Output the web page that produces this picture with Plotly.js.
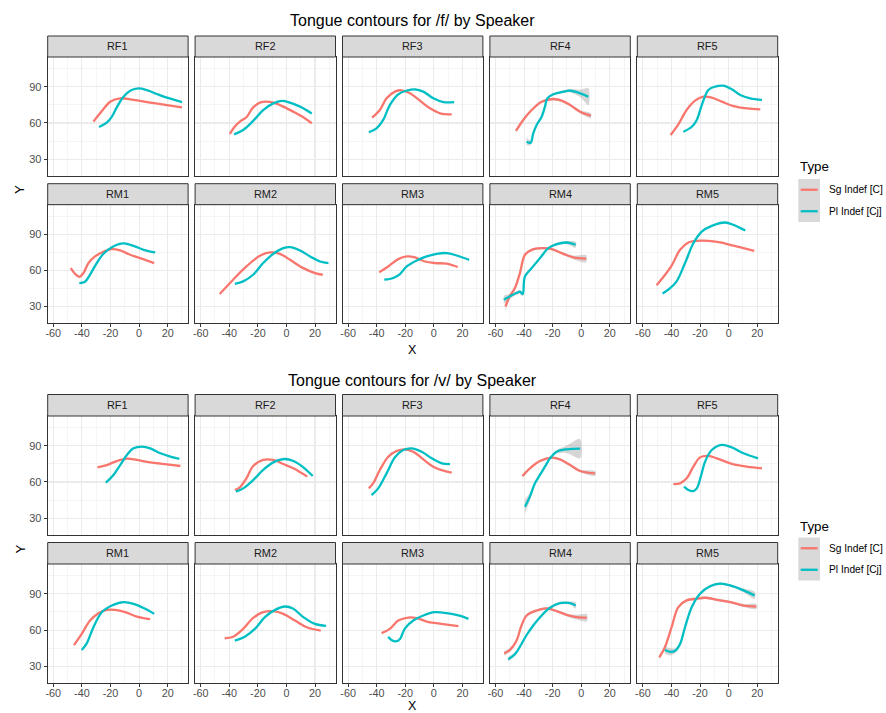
<!DOCTYPE html>
<html>
<head>
<meta charset="utf-8">
<script src="https://cdn.plot.ly/plotly-3.0.1.min.js"></script>
<style>html,body{margin:0;padding:0;background:#fff;}#chart{width:886px;height:713px;}</style>
</head>
<body>
<div id="chart"></div>
<script>
// ---------------- DATA ----------------
var speakersRow1 = ['RF1','RF2','RF3','RF4','RF5'];
var speakersRow2 = ['RM1','RM2','RM3','RM4','RM5'];
var typeLabels = ['Sg Indef [C]','Pl Indef [Cj]'];
var xTicks = [-60,-40,-20,0,20];
var yTicks = [30,60,90];

// /f/ contours: [X, Y]
var f_RF1_sg = [[-31.9,61.1],[-26,69.8],[-20.2,77.6],[-13.2,80.4],[-3.9,79],[7.8,76.8],[19.5,74.8],[30,72.9]];
var f_RF1_pl = [[-28,56.7],[-22.6,60.2],[-19,65.2],[-15.6,72.9],[-10.9,81.7],[-6.2,86.7],[-0.4,88.6],[5.5,87.2],[12.5,83.9],[19.5,80.9],[30,77.3]];
var f_RF2_sg = [[-39.6,50.9],[-36.1,57],[-32.6,61.1],[-28,64.7],[-23.3,72.9],[-18.6,76.8],[-13.9,77.6],[-9.2,76.8],[-2.2,73.5],[4.8,69.3],[11.8,64.7],[17.7,59.7]];
var f_RF2_pl = [[-36.6,50.6],[-30.3,54.2],[-23.3,61.7],[-16.3,70.7],[-9.2,76.2],[-3.4,78.2],[2.5,76.8],[9.5,73.5],[17.7,67.9]];
var f_RF3_sg = [[-43.2,64.4],[-37.8,70.7],[-33.1,80.4],[-27.2,85.9],[-22.6,87],[-16.7,84.5],[-9.7,78.4],[-2.7,72.1],[4.3,68],[12.5,67.1]];
var f_RF3_pl = [[-45.5,52.3],[-40.1,55.6],[-35.4,62.5],[-30.8,74.8],[-24.9,83.7],[-19,86.7],[-13.2,87.8],[-7.4,85.9],[-0.4,80.4],[6.7,77.3],[14.2,77.3]];
var f_RF4_sg = [[-45.7,53.4],[-40.6,62.5],[-34.7,70.7],[-27.7,77.6],[-19.5,79.8],[-13.7,78.4],[-7.8,74.8],[-0.8,69.3],[6.7,66]];
var f_RF4_pl = [[-38.2,44.5],[-35.4,43.7],[-33.6,51.4],[-31.2,58.3],[-27.7,65.2],[-25.4,73.5],[-23.7,80.4],[-19.5,83.7],[-12.5,85.9],[-7.8,86.7],[-0.8,84.5],[5,81.7]];
var f_RF5_sg = [[-40.6,50.1],[-35.2,58.9],[-29.4,70.7],[-23.5,78.4],[-17.7,81.7],[-11.8,80.9],[-4.8,77.6],[3.4,74],[12.7,72.1],[22.1,71.3]];
var f_RF5_pl = [[-31.7,52.8],[-25.8,56.9],[-22.3,62.5],[-18.8,74.8],[-14.2,87.2],[-9.5,90],[-3.6,90.8],[2.2,87.8],[8.1,83.1],[15.1,80.4],[23.3,79]];
var f_RM1_sg = [[-47.8,61.8],[-44.8,57.1],[-41.8,54.6],[-38.9,57.7],[-35.4,66],[-30.8,71.5],[-24.9,75.4],[-19,77.6],[-13.2,76.5],[-6.2,72.9],[0.8,70.1],[10.6,66]];
var f_RM1_pl = [[-41.8,49.4],[-37.8,50.5],[-34.3,56.3],[-29.6,66],[-24.9,73.7],[-19,79.2],[-10.9,82.3],[-3.9,80.3],[3.2,77],[11.3,74.8]];
var f_RM2_sg = [[-46.7,40.3],[-37.3,52.2],[-28,63.2],[-18.6,72],[-11.6,74.8],[-4.6,73.7],[2.5,68.7],[11.8,61.8],[20,57.7],[25.4,56.3]];
var f_RM2_pl = [[-36.1,48.8],[-30.3,50.8],[-23.3,56.3],[-16.3,66],[-9.2,73.7],[-2.2,78.4],[2.5,79.2],[9.5,76.5],[16.5,71.5],[23.5,67.3],[29.4,66]];
var f_RM3_sg = [[-38.2,58.4],[-31.9,63.2],[-24.9,69.3],[-19,71.5],[-13.2,70.7],[-6.2,67.3],[0.8,66],[9,65.5],[16.7,62.7]];
var f_RM3_pl = [[-34.7,52.2],[-28.4,53.6],[-23.7,56.9],[-19,63.2],[-12,68.2],[-5,71.5],[2,73.7],[9,74.3],[16,72.3],[24.7,68.7]];
var f_RM4_sg = [[-53,30],[-50,38.3],[-46.4,45.2],[-42.9,57.7],[-39.4,72.9],[-34.7,77],[-27.7,78.4],[-20.7,77.6],[-12.5,73.7],[-5.5,70.7],[3.4,69.6]];
var f_RM4_pl = [[-54.2,35.6],[-50,38.3],[-45.3,41.1],[-42.9,42.2],[-41,40.2],[-39.4,54.9],[-34.7,61.8],[-28.9,70.1],[-23,78.4],[-17.2,81.7],[-10.2,83.1],[-3.9,81.2]];
var f_RM5_sg = [[-50.4,47.6],[-45.7,54.4],[-39.9,63.9],[-34,77],[-28.2,83.1],[-22.3,84.5],[-14.2,84.5],[-6,83.1],[3.4,80.4],[10.4,78.4],[17.9,76.2]];
var f_RM5_pl = [[-46.2,40.7],[-41.1,44.9],[-36.4,50.8],[-30.5,66],[-24.7,82.5],[-18.8,92.2],[-11.8,96.9],[-2.5,99.7],[3.4,97.7],[11.6,93]];

// /v/ contours: [X, Y]
var v_RF1_sg = [[-29.1,72.1],[-22.6,74],[-15.6,77.3],[-8.5,79.3],[-1.5,78.2],[7.8,76.2],[19.5,74.6],[28.9,73.2]];
var v_RF1_pl = [[-23.3,59.4],[-17.9,65.8],[-13.2,74],[-8.5,82.3],[-3.9,87.8],[2,89.2],[7.8,87.8],[14.9,83.7],[21.9,80.9],[28.2,79]];
var v_RF2_sg = [[-36.1,53.4],[-32.6,55.6],[-28,63],[-23.3,73.2],[-16.3,78.2],[-9.2,78.2],[-2.2,74.8],[4.8,71.3],[14.6,64.4]];
var v_RF2_pl = [[-35.4,52],[-30.3,54.7],[-23.3,61.6],[-16.3,69.9],[-9.2,76.2],[-1,79],[4.8,77.3],[11.8,72.1],[18.4,64.9]];
var v_RF3_sg = [[-45.5,54.7],[-42.5,58.8],[-37.8,69.9],[-31.9,80.9],[-26.1,85.6],[-20.2,87],[-14.4,85],[-7.4,78.7],[-0.4,72.6],[6.7,69.3],[12.5,67.7]];
var v_RF3_pl = [[-43.6,49.2],[-38.9,54.7],[-33.1,67.1],[-27.2,80.4],[-21.4,86.4],[-15.6,87.8],[-8.5,85],[-1.5,79.5],[5.5,75.4],[11.3,74.8]];
var v_RF4_sg = [[-41.1,64.9],[-35.9,71.3],[-28.9,77.3],[-20.7,80.1],[-14.9,78.7],[-7.8,74],[-0.8,69.1],[9.7,67.1]];
var v_RF4_pl = [[-39.4,39.6],[-35.9,47.9],[-32.4,58.9],[-28.9,65.8],[-25.4,72.6],[-21.9,79.5],[-17.2,85],[-10.2,87],[-0.8,87.5]];
var v_RF5_sg = [[-38.7,58.3],[-34,58.9],[-29.4,63],[-24.7,72.6],[-20,80.3],[-14.2,81.5],[-8.3,79.5],[1.1,75.4],[12.7,72.6],[23.3,71.3]];
var v_RF5_pl = [[-31.2,56.1],[-28.2,53.4],[-24.7,52.5],[-22.3,54.7],[-19.5,64.4],[-16.5,76.7],[-11.8,86.4],[-4.8,90.6],[2.2,88.6],[10.4,83.7],[20.5,79.5]];
var v_RM1_sg = [[-45.5,47.7],[-40.1,56.9],[-34.3,67.9],[-28.4,74],[-22.6,76.7],[-16.7,76.7],[-9.7,74.8],[-1.5,71.2],[7.8,69]];
var v_RM1_pl = [[-40.1,43.6],[-36.6,49.1],[-31.9,62.4],[-26.1,74.8],[-19,80.3],[-10.9,83.1],[-3.9,81.7],[4.3,77.6],[10.6,73.4]];
var v_RM2_sg = [[-43.2,53.3],[-37.3,54.6],[-30.3,61],[-23.3,70.1],[-16.3,74.8],[-9.2,75.6],[-2.2,73.4],[6,67.9],[14.2,62.4],[24,59.6]];
var v_RM2_pl = [[-36.1,51.3],[-29.1,54.6],[-22.1,61],[-15.1,70.7],[-8,76.7],[-1,79.5],[4.8,77.6],[11.8,70.7],[20,65.1],[27.7,63.5]];
var v_RM3_sg = [[-36.6,57.5],[-30.8,61],[-24.9,67.9],[-17.9,70.4],[-12,69.9],[-5,67.1],[2,65.7],[9,64.6],[17.2,63.3]];
var v_RM3_pl = [[-31.9,54.6],[-29.6,51.8],[-26.5,50.7],[-23.7,52.7],[-20.2,61.5],[-14.4,67.9],[-7.4,72.1],[0.8,74.8],[9,74],[17.2,72.1],[24.2,69.3]];
var v_RM4_sg = [[-53.9,40.8],[-50,43.6],[-45.3,51.3],[-41.8,63.8],[-38.2,72.1],[-31.2,76.2],[-24.2,77.9],[-17.2,75.7],[-9,72.1],[-3.2,70.7],[3.8,70.2]];
var v_RM4_pl = [[-51.1,36.1],[-46.4,40.2],[-41.8,48.6],[-38.2,56],[-33.6,63.8],[-27.7,72.1],[-21.9,78.4],[-14.9,82.3],[-7.8,82.3],[-3.9,80.3]];
var v_RM5_sg = [[-48.5,37.6],[-44.6,45.9],[-39.9,62.5],[-35.2,79],[-29.4,84.5],[-22.3,85.9],[-16.5,86.7],[-8.3,85],[1.1,83.1],[10.4,80.3],[19.3,79.5]];
var v_RM5_pl = [[-44.6,43.6],[-41.1,42.2],[-37.5,43],[-34,48.6],[-30.5,62.5],[-25.8,79],[-20,90],[-13,96.1],[-6,98.3],[1.1,96.9],[10.4,92.8],[18.2,88.6]];

// standard-error half-widths (confidence ribbons) where visible
var f_RF4_sg_se = [1.5,1,1,1,1,1,1,1.2,2];
var f_RF4_pl_se = [3,2,1.5,1,1,1,1,1,1,1.5,3,7];
var f_RM4_sg_se = [4,2,1.5,1,1,1,1,1,1,1.5,3];
var f_RM4_pl_se = [3.5,2,1.5,1.5,1.5,1.5,1,1,1,1,1.2,2.5];
var v_RF4_sg_se = [1.5,1,1,1,1,1,1,2];
var v_RF4_pl_se = [6,3,1.5,1,1,1,1.5,3,8];
var v_RM4_sg_se = [2,1.5,1,1,1,1,1,1,1.2,2,3];
var v_RM4_pl_se = [2,1.5,1,1,1,1,1,1,1.2,2.5];
var v_RM5_sg_se = [2,1.5,1,1,1,1,1,1,1,1.2,2];
var v_RM5_pl_se = [3,3,2,1.5,1,1,1,1,1,1,1.5,3];

// ---------------- LAYOUT GEOMETRY (pixels) ----------------
var W = 886, H = 713;
var colL = [47.7, 195.1, 342.5, 489.9, 637.3];
var panW = 140.4;
var figs = [
  {key:'f', title:'Tongue contours for /f/ by Speaker', titleY:20,
   rows:[[57,176],[204.7,323]], strips:[[36,57],[183.7,204.7]], xTitleY:349.5, yTitleY:190,
   legTitleY:167, keyBox:[179,222]},
  {key:'v', title:'Tongue contours for /v/ by Speaker', titleY:380,
   rows:[[416,535],[564,683.3]], strips:[[394.5,416],[542.5,564]], xTitleY:705.6, yTitleY:549.5,
   legTitleY:526, keyBox:[537.5,580.5]}
];
var colors = ['#F8766D', '#00BFC4'];
var FONT = 'Liberation Sans, Arial, Helvetica, sans-serif';

var data = [];
var layout = {
  width: W, height: H,
  margin: {l:0, r:0, t:0, b:0},
  paper_bgcolor: '#ffffff', plot_bgcolor: '#ffffff',
  showlegend: false,
  font: {family: FONT, color: '#000000'},
  shapes: [], annotations: []
};

function px(x){ return x / W; }
function py(y){ return 1 - y / H; }

var n = 0;
figs.forEach(function(fig){
  [speakersRow1, speakersRow2].forEach(function(speakers, r){
    speakers.forEach(function(sp, c){
      n += 1;
      var xs = n === 1 ? '' : String(n);
      var xa = 'xaxis' + xs, ya = 'yaxis' + xs;
      var bottomRow = (r === 1), leftCol = (c === 0);
      layout[xa] = {
        domain: [px(colL[c]), px(colL[c] + panW)],
        anchor: 'y' + xs,
        range: [-63.9, 34.3], tickmode: 'array', tickvals: xTicks, ticktext: xTicks.map(String),
        showticklabels: bottomRow, ticks: bottomRow ? 'outside' : '', ticklen: 3, tickwidth: 1,
        ticklabelstandoff: -3,
        tickcolor: '#333333', tickfont: {size: 10.8, color: '#4D4D4D', family: FONT},
        showgrid: true, gridcolor: '#EBEBEB', gridwidth: 1.1,
        minor: {tickmode: 'array', tickvals: [-50,-30,-10,10,30], showgrid: true, gridcolor: '#EFEFEF', gridwidth: 0.6},
        zeroline: false, showline: true, mirror: true, linecolor: '#333333', linewidth: 1, fixedrange: true
      };
      layout[ya] = {
        domain: [py(fig.rows[r][1]), py(fig.rows[r][0])],
        anchor: 'x' + xs,
        range: [16.2, 114.5], tickmode: 'array', tickvals: yTicks, ticktext: yTicks.map(String),
        showticklabels: leftCol, ticks: leftCol ? 'outside' : '', ticklen: 3, tickwidth: 1,
        tickcolor: '#333333', tickfont: {size: 11, color: '#4D4D4D', family: FONT},
        showgrid: true, gridcolor: '#EBEBEB', gridwidth: 1.1,
        minor: {tickmode: 'array', tickvals: [45,75,105], showgrid: true, gridcolor: '#EFEFEF', gridwidth: 0.6},
        zeroline: false, showline: true, mirror: true, linecolor: '#333333', linewidth: 1, fixedrange: true
      };
      // strip
      layout.shapes.push({type:'rect', xref:'paper', yref:'paper',
        x0: px(colL[c]), x1: px(colL[c] + panW), y0: py(fig.strips[r][1]), y1: py(fig.strips[r][0]),
        fillcolor: '#D9D9D9', line: {color: '#333333', width: 1}});
      layout.annotations.push({xref:'paper', yref:'paper', x: px(colL[c] + panW/2),
        y: py((fig.strips[r][0] + fig.strips[r][1]) / 2), text: sp, showarrow: false,
        xanchor: 'center', yanchor: 'middle', font: {size: 10.9, color: '#1A1A1A', family: FONT}});
      // curves
      ['sg','pl'].forEach(function(t, ti){
        var name = fig.key + '_' + sp + '_' + t;
        var pts = window[name];
        var X = pts.map(function(p){ return p[0]; });
        var Y = pts.map(function(p){ return p[1]; });
        var se = window[name + '_se'];
        if (se) {
          var up = Y.map(function(v, i){ return v + se[i]; });
          var lo = Y.map(function(v, i){ return v - se[i]; });
          data.push({type:'scatter', mode:'lines', xaxis:'x'+xs, yaxis:'y'+xs,
            x: X.concat(X.slice().reverse()), y: up.concat(lo.slice().reverse()),
            fill:'toself', fillcolor:'rgba(153,153,153,0.4)', line:{width:0, shape:'spline', smoothing:0.8},
            hoverinfo:'skip', showlegend:false});
        }
        data.push({type:'scatter', mode:'lines', xaxis:'x'+xs, yaxis:'y'+xs, x: X, y: Y,
          name: typeLabels[ti], line: {color: colors[ti], width: 2.3, shape: 'spline', smoothing: 1},
          showlegend: false});
      });
    });
  });
  // titles
  layout.annotations.push({xref:'paper', yref:'paper', x: px(412.4), y: py(fig.titleY), text: fig.title,
    showarrow:false, xanchor:'center', yanchor:'middle', font:{size:16, color:'#000000', family:FONT}});
  layout.annotations.push({xref:'paper', yref:'paper', x: px(412.4), y: py(fig.xTitleY), text: 'X',
    showarrow:false, xanchor:'center', yanchor:'middle', borderpad:0, font:{size:12.5, color:'#000000', family:FONT}});
  layout.annotations.push({xref:'paper', yref:'paper', x: px(20), y: py(fig.yTitleY), text: 'Y', textangle:-90,
    showarrow:false, xanchor:'center', yanchor:'middle', font:{size:13.3, color:'#000000', family:FONT}});
  // legend
  layout.annotations.push({xref:'paper', yref:'paper', x: px(797.5), y: py(fig.legTitleY), text: 'Type',
    showarrow:false, xanchor:'left', yanchor:'middle', font:{size:13.3, color:'#000000', family:FONT}});
  var kb = fig.keyBox, kh = (kb[1] - kb[0]) / 2;
  layout.shapes.push({type:'rect', xref:'paper', yref:'paper', x0: px(798.3), x1: px(820), y0: py(kb[1]), y1: py(kb[0]),
    fillcolor:'#D9D9D9', line:{width:0}});
  typeLabels.forEach(function(lbl, i){
    var yc = kb[0] + kh * (i + 0.5);
    layout.shapes.push({type:'line', xref:'paper', yref:'paper', x0: px(800.7), x1: px(817.7), y0: py(yc), y1: py(yc),
      line:{color: colors[i], width: 2.3}});
    layout.annotations.push({xref:'paper', yref:'paper', x: px(826.5), y: py(yc), text: lbl,
      showarrow:false, xanchor:'left', yanchor:'middle', font:{size:10.2, color:'#000000', family:FONT}});
  });
});

Plotly.newPlot('chart', data, layout, {staticPlot: true, displayModeBar: false});
</script>
</body>
</html>
